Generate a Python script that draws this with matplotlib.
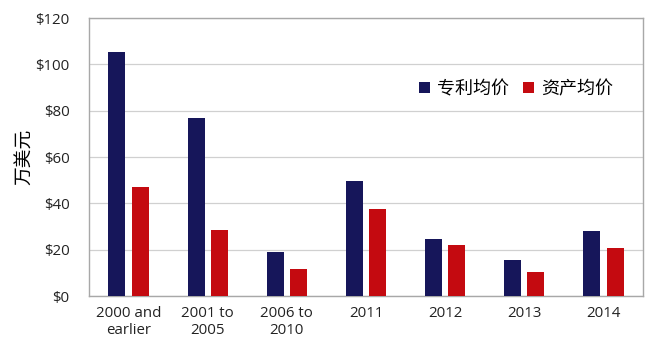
import numpy as np
import matplotlib.pyplot as plt

plt.rcParams['font.family'] = ['Open Sans', 'Noto Sans CJK SC', 'DejaVu Sans']

# data
categories = ['2000 and\nearlier', '2001 to\n2005', '2006 to\n2010', '2011', '2012', '2013', '2014']
patent_avg = [105.3, 76.7, 18.9, 49.6, 24.7, 15.4, 28.0]
asset_avg = [47.2, 28.5, 11.5, 37.4, 22.0, 10.2, 20.7]
yticks = [0, 20, 40, 60, 80, 100, 120]

fig = plt.figure(figsize=(6.53, 3.43), dpi=100)
ax = fig.add_axes([0.1363, 0.137, 0.8484, 0.8105])

x = np.arange(len(categories))
w = 0.215
off = 0.147
ax.bar(x - off, patent_avg, w, color='#16165a', label='专利均价', zorder=3)
ax.bar(x + off, asset_avg, w, color='#c40a10', label='资产均价', zorder=3)

ax.set_xlim(-0.5, len(categories) - 0.5)
ax.set_ylim(0, 120)
ax.set_yticks(yticks)
ax.set_yticklabels([f'${v}' for v in yticks])
ax.set_xticks(x)
ax.set_xticklabels(categories, linespacing=1.2)
ax.tick_params(axis='both', length=0, labelsize=10.8, colors='#222222')
ax.tick_params(axis='y', pad=14)
ax.tick_params(axis='x', pad=7)

ax.grid(axis='y', color='#d0d0d0', linewidth=0.9, zorder=0)
for s in ax.spines.values():
    s.set_color('#a8a8a8')
    s.set_linewidth(1.0)

ax.set_ylabel('万美元', fontsize=13.5, family=['Noto Sans CJK SC'], labelpad=0)

ax.legend(loc='upper left', bbox_to_anchor=(0.566, 0.835), ncol=2, frameon=False,
          handlelength=0.6, handleheight=0.6, handletextpad=0.4,
          columnspacing=0.8, prop={'family': ['Noto Sans CJK SC'], 'size': 13})

fig.savefig('out.png', dpi=100)
